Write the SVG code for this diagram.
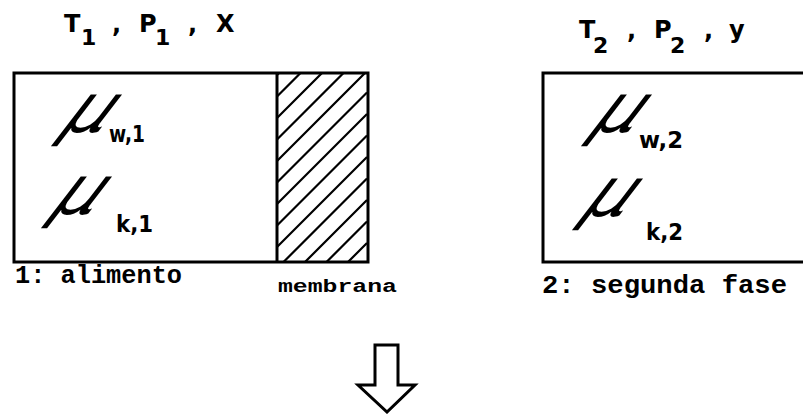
<svg xmlns="http://www.w3.org/2000/svg" width="803" height="414" viewBox="0 0 803 414">
<defs>
<style>
.box{fill:none;stroke:#000;stroke-width:3}
.hatch{fill:none;stroke:#000;stroke-width:2.2}
.t{font-family:"DejaVu Sans","Liberation Sans",sans-serif;font-size:24px;font-weight:bold;fill:#000}
.s{font-family:"DejaVu Sans","Liberation Sans",sans-serif;font-size:22px;font-weight:bold;fill:#000}
.mu{font-family:"DejaVu Sans","Liberation Sans",sans-serif;font-style:italic;font-size:36px;fill:#000}
.sub{font-family:"DejaVu Sans","Liberation Sans",sans-serif;font-size:23px;font-weight:bold;fill:#000}
.lbl{font-family:"Liberation Mono","DejaVu Sans Mono",monospace;font-size:25px;font-weight:bold;fill:#000}
.lbls{font-family:"Liberation Mono","DejaVu Sans Mono",monospace;font-size:18px;font-weight:bold;fill:#000}
.arrow{fill:#fff;stroke:#000;stroke-width:3;stroke-linejoin:miter}
</style>
<clipPath id="mclip"><rect x="277" y="73" width="90" height="189"/></clipPath>
</defs>

<g id="phase1">
<rect class="box" x="14" y="73" width="354" height="189"/>
<text class="t" x="64" y="32">T</text><text class="s" x="81" y="45">1</text>
<text class="t" x="112" y="32">,</text>
<text class="t" x="139" y="32">P</text><text class="s" x="155" y="45">1</text>
<text class="t" x="188" y="32">,</text>
<text class="t" x="216" y="32">X</text>
<text class="mu" transform="translate(60,132) skewX(-30) scale(1.9,1.9)">μ</text>
<text class="sub" x="109" y="142" textLength="36" lengthAdjust="spacingAndGlyphs">w,1</text>
<text class="mu" transform="translate(50,214) skewX(-30) scale(1.9,1.9)">μ</text>
<text class="sub" x="116" y="232" textLength="37" lengthAdjust="spacingAndGlyphs">k,1</text>
<text class="lbl" x="15" y="283" textLength="167" lengthAdjust="spacingAndGlyphs">1: alimento</text>
</g>

<g id="membrana">
<line class="box" x1="277" y1="73" x2="277" y2="262"/>
<path class="hatch" clip-path="url(#mclip)" d="M277,75 L367,-15 M277,96.5 L367,6.5 M277,118 L367,28 M277,139.5 L367,49.5 M277,161 L367,71 M277,182.5 L367,92.5 M277,204 L367,114 M277,225.5 L367,135.5 M277,247 L367,157 M277,268.5 L367,178.5 M277,290 L367,200 M277,311.5 L367,221.5 M277,333 L367,243 M277,354.5 L367,264.5"/>
<text class="lbls" x="278" y="292" textLength="119" lengthAdjust="spacingAndGlyphs">membrana</text>
</g>

<g id="phase2">
<rect class="box" x="543" y="73" width="270" height="189"/>
<text class="t" x="579" y="38">T</text><text class="s" x="593" y="53">2</text>
<text class="t" x="627" y="38">,</text>
<text class="t" x="654" y="38">P</text><text class="s" x="670" y="53">2</text>
<text class="t" x="704" y="38">,</text>
<text class="t" x="729" y="38">y</text>
<text class="mu" transform="translate(590,132) skewX(-30) scale(1.9,1.9)">μ</text>
<text class="sub" x="639" y="148" textLength="44" lengthAdjust="spacingAndGlyphs">w,2</text>
<text class="mu" transform="translate(581,216) skewX(-30) scale(1.9,1.9)">μ</text>
<text class="sub" x="646" y="240" textLength="37" lengthAdjust="spacingAndGlyphs">k,2</text>
<text class="lbl" x="542" y="293" textLength="245" lengthAdjust="spacingAndGlyphs">2: segunda fase</text>
</g>

<g id="connectors">
<path class="arrow" d="M375,345 L398,345 L398,385 L415,385 L387,412 L358,385 L375,385 Z"/>
</g>
</svg>
